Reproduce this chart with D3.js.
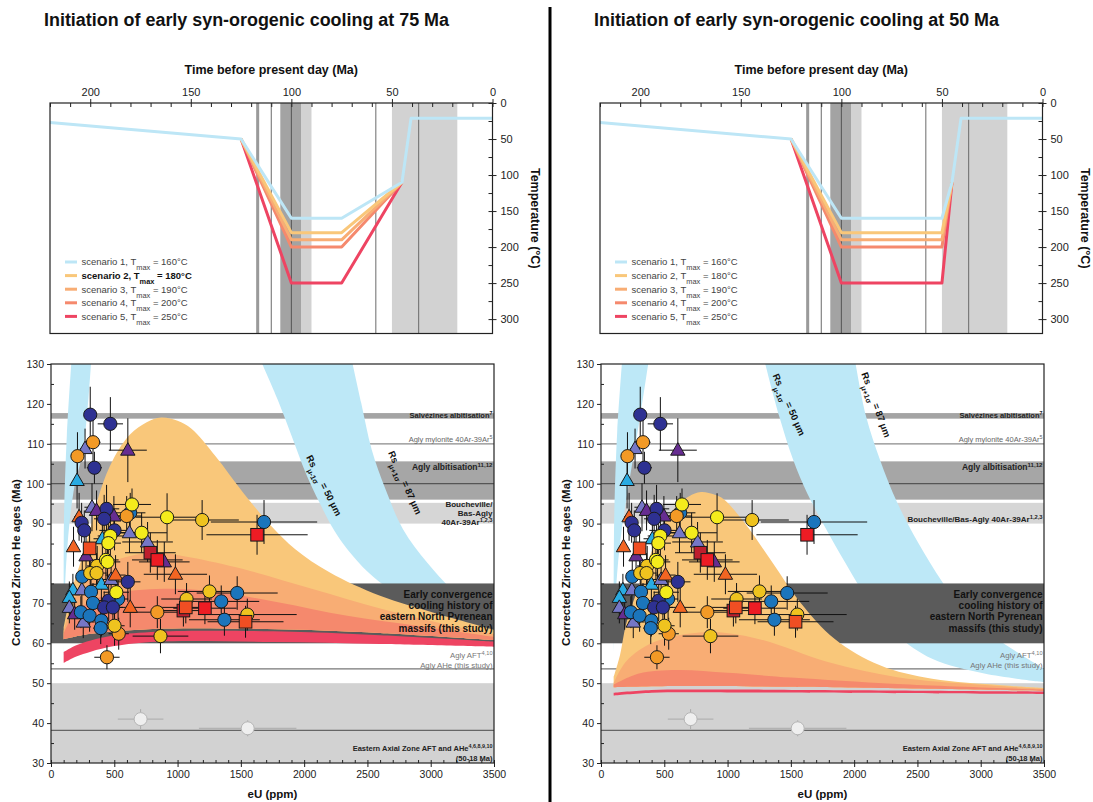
<!DOCTYPE html>
<html lang="en">
<head>
<meta charset="UTF-8">
<title>Early syn-orogenic cooling scenarios</title>
<script src="https://cdn.jsdelivr.net/npm/d3@7"></script>
<style>
  body { margin: 0; background: #fff; }
  svg text { font-family: "Liberation Sans", Arial, sans-serif; }
</style>
</head>
<body>
<div id="container"></div>
<script>
const width = 1093;
const height = 802;

// ---------- data ----------
const panelTitles = ['Initiation of early syn-orogenic cooling at 75 Ma', 'Initiation of early syn-orogenic cooling at 50 Ma'];

// top panels: time (Ma) / temperature (°C)
const timeTicks = [200, 150, 100, 50, 0];
const tempTicks = [0, 50, 100, 150, 200, 250, 300];
const scenarioTmax = [160, 180, 190, 200, 250];
const pathsAt75 = [
  [[220, 27], [125, 50], [100, 160], [75, 160], [45, 110], [40.5, 21], [0, 21]],
  [[125, 50], [100, 180], [75, 180], [45, 110]],
  [[125, 50], [100, 190], [75, 190], [45, 110]],
  [[125, 50], [100, 200], [75, 200], [45, 110]],
  [[125, 50], [100, 250], [75, 250], [45, 110]]
];
const pathsAt50 = [
  [[220, 27], [125, 50], [100, 160], [50, 160], [45, 110], [40.5, 21], [0, 21]],
  [[125, 50], [100, 180], [50, 180], [45, 110]],
  [[125, 50], [100, 190], [50, 190], [45, 110]],
  [[125, 50], [100, 200], [50, 200], [45, 110]],
  [[125, 50], [100, 250], [50, 250], [45, 110]]
];
// geological events on the time axis
const eventBandsTime = [[117.5, 116], [105.5, 95.2], [95.2, 90], [50, 17.5]];
const eventLinesTime = [110, 100, 58, 36.7];

// bottom panels: eU (ppm) / corrected ZHe age (Ma)
const eUTicks = [0, 500, 1000, 1500, 2000, 2500, 3000, 3500];
const ageTicks = [30, 40, 50, 60, 70, 80, 90, 100, 110, 120, 130];
const ageBands = [[116.3, 117.7], [96, 105.6], [90, 95.2], [30, 50]];
const convergenceBand = [60, 75];
const ageLines = [110, 100, 53.6, 38.2];

// Rs envelopes [eU, age]
const wedgeLeftAt75 = [[160, 130], [125, 112], [103, 92], [100, 75], [100, 57]];
const wedgeRightAt75 = [[316, 130], [257, 109], [178, 98], [120, 80], [100, 57]];
const wedgeLeftAt50 = [[165, 130], [128, 113], [106, 94], [100, 75], [100, 57]];
const wedgeRightAt50 = [[373, 130], [300, 115], [220, 100], [150, 85], [112, 70], [100, 57]];
const rsLowAt75 = [[1669, 130], [1792, 121], [1902, 111.9], [2012, 102.7], [2122, 95.2], [2232, 88.6], [2341, 83.6], [2506, 77.8], [2671, 73.6], [2891, 69], [3165, 65.3], [3500, 62.8]];
const rsHighAt75 = [[2383, 130], [2451, 120.2], [2534, 108.5], [2643, 98.6], [2781, 88.6], [2973, 80.2], [3165, 73.6], [3330, 69.4], [3500, 64.6]];
const rsLowAt50 = [[1298, 130], [1408, 116.9], [1518, 106], [1628, 97.7], [1765, 89.4], [1930, 80.2], [2122, 70.3], [2341, 62], [2616, 56.1], [3028, 52.4], [3500, 50.3]];
const rsHighAt50 = [[2012, 130], [2094, 116.9], [2204, 106], [2341, 95.2], [2506, 85.2], [2698, 75.3], [2891, 66.9], [3165, 60.3], [3500, 53.6]];

// predicted age envelopes per scenario [eU, age]
const s2TopAt75 = [[100, 64], [125, 68], [180, 75], [230, 80], [308, 88.4], [392, 98.4], [490, 106], [624, 112.3], [756, 115.4], [870, 116.6], [1000, 115.8], [1110, 113.8], [1300, 106.9], [1520, 97.7], [1740, 89.4], [1930, 83.6], [2200, 77.8], [2600, 71.9], [3030, 67.6], [3500, 63.4]];
const s3TopAt75 = [[100, 63], [200, 72], [420, 79.4], [694, 82.3], [860, 82.7], [1106, 81.5], [1518, 78.6], [2067, 73.6], [2616, 68.6], [3165, 64.4], [3500, 62.3]];
const s4TopAt75 = [[100, 62.5], [200, 68], [420, 71.9], [832, 73.6], [1243, 73.2], [1792, 70.3], [2341, 66.9], [2891, 64.4], [3500, 61.6]];
const baseAt75 = [[100, 61], [300, 62.3], [800, 63.6], [1800, 63.5], [2600, 62.6], [3500, 60.8]];
const s5TopAt75 = [[100, 57.8], [200, 59.5], [314, 60.7], [500, 62], [840, 62.9], [1757, 63], [2600, 62], [3500, 60.4]];
const s5BottomAt75 = [[100, 55.1], [200, 56.7], [314, 57.9], [500, 59.3], [840, 60.4], [1757, 60.3], [2600, 59.8], [3500, 59.1]];

const s2TopAt50 = [[100, 51.5], [150, 57], [200, 65], [310, 75.3], [400, 83], [502, 90.2], [600, 94.5], [694, 96.8], [790, 97.9], [900, 97.2], [969, 96.1], [1134, 90.2], [1353, 80.3], [1573, 70.3], [1847, 61.1], [2204, 54.5], [2616, 51.1], [3165, 49.5], [3500, 48.8]];
const s3TopAt50 = [[100, 50], [200, 55.5], [420, 60.3], [832, 62.8], [1243, 61.1], [1792, 55.3], [2341, 51.5], [3000, 49.6], [3500, 48.6]];
const s4TopAt50 = [[100, 49.6], [300, 52.4], [600, 53.3], [1000, 52.6], [1500, 51.4], [2341, 49.8], [3500, 48.4]];
const baseAt50 = [[100, 49], [600, 49.3], [1500, 49.1], [3500, 48.1]];
const s5TopAt50 = [[100, 47.6], [400, 48.3], [1000, 48.4], [3500, 47.9]];
const s5BottomAt50 = [[100, 46.9], [400, 47.6], [1000, 47.7], [3500, 47.3]];

// Eastern Axial Zone reference ages [eU, eU error, age, age error]
const eazAges = [[708, 180, 41.0, 2.5], [1554, 385, 38.7, 2]];

// ZHe single grain ages [eU, eU error, age, age error]
const lightBlueTriangles = [[206, 30, 100.8, 7], [173, 30, 73.4, 4], [145, 30, 71.5, 4], [398, 80, 74.8, 4], [406, 70, 86.2, 4]];
const slateTriangles = [[269, 40, 108.8, 5], [324, 60, 94.1, 6], [620, 150, 87.7, 5], [763, 200, 85.4, 5], [145, 30, 69.0, 4], [244, 40, 73.4, 4], [255, 40, 65.3, 4], [475, 80, 76, 5]];
const purpleTriangles = [[607, 150, 108.4, 8], [360, 60, 93.3, 5], [497, 100, 91.9, 5], [277, 40, 81.9, 5], [895, 200, 80.4, 5], [187, 30, 67.4, 4]];
const orangeTriangles = [[222, 40, 91.7, 6], [178, 30, 84.2, 5], [983, 250, 77.3, 5], [510, 80, 77.1, 5], [626, 120, 69.0, 5]];
const blueCircles = [[1683, 420, 90.4, 5.5], [1471, 320, 72.6, 4.2], [1345, 300, 70.5, 4], [1370, 280, 65.9, 4], [247, 40, 76.7, 4], [316, 50, 72.9, 5], [332, 50, 70.1, 5], [236, 40, 67.8, 4], [305, 50, 66.9, 4], [398, 60, 65.7, 4], [393, 60, 63.8, 4], [530, 80, 71.1, 5], [626, 120, 92.7, 5]];
const navyCircles = [[310, 30, 117.3, 7], [469, 100, 115.0, 6.7], [343, 60, 104.0, 4], [439, 100, 93.7, 6], [420, 80, 91.2, 6], [502, 120, 88.3, 5], [242, 40, 90.2, 5], [263, 40, 88.3, 5], [607, 100, 75.4, 5], [456, 80, 70.7, 5], [420, 80, 69.0, 4], [489, 80, 69.0, 4]];
const orangeCircles = [[209, 30, 106.9, 6], [332, 60, 110.4, 6], [598, 120, 91.9, 5], [840, 250, 67.8, 4], [535, 80, 62.4, 4], [442, 100, 56.5, 3]];
const goldCircles = [[1194, 290, 90.9, 5], [1252, 250, 73.0, 4], [1071, 200, 71.1, 4], [1551, 390, 67.2, 4], [865, 220, 61.8, 4.3], [365, 80, 79.4, 5], [310, 60, 77.6, 5], [360, 80, 77.6, 5], [502, 80, 64.4, 5]];
const yellowCircles = [[640, 150, 94.8, 4], [917, 250, 91.6, 6], [716, 200, 87.7, 5], [469, 100, 86.9, 5], [453, 100, 85.1, 5], [434, 100, 80.9, 5], [447, 100, 80.4, 5], [516, 100, 72.8, 4]];
const darkRedSquares = [[785, 200, 82.7, 5], [1046, 200, 68.2, 4]];
const redSquares = [[1628, 400, 87.2, 5], [840, 200, 80.9, 5], [1216, 250, 68.8, 4]];
const orangeRedSquares = [[305, 50, 83.8, 5], [1065, 200, 69.0, 4], [1537, 300, 65.4, 4]];

// ---------- styles ----------
const scenarioColors = ['#bde6f6', '#f9c77a', '#f8ad74', '#f5896d', '#ee4462'];
const bandFills = ['#a4a4a4', '#a6a6a6', '#d6d6d6', '#d2d2d2'];
const lineColors = ['#8a8a8a', '#555', '#777', '#666'];
const eventBandFills = ['#9a9a9a', '#a3a3a3', '#d2d2d2', '#d2d2d2'];
const rsBlue = '#bde8f7';

const markerGroups = [
  { data: lightBlueTriangles, shape: 'tri', fill: '#29abe2' },
  { data: slateTriangles, shape: 'tri', fill: '#7577c6' },
  { data: purpleTriangles, shape: 'tri', fill: '#662d91' },
  { data: orangeTriangles, shape: 'tri', fill: '#f26522' },
  { data: blueCircles, shape: 'circle', fill: '#1b75bc' },
  { data: navyCircles, shape: 'circle', fill: '#2e3192' },
  { data: orangeCircles, shape: 'circle', fill: '#f39a26' },
  { data: goldCircles, shape: 'circle', fill: '#efc31f' },
  { data: yellowCircles, shape: 'circle', fill: '#f4eb1c' },
  { data: darkRedSquares, shape: 'square', fill: '#be1e2d' },
  { data: redSquares, shape: 'square', fill: '#ed1c24' },
  { data: orangeRedSquares, shape: 'square', fill: '#f04e23' }
];

const panels = [
  {
    ox: 0, title: panelTitles[0], paths: pathsAt75, boldRow: 1,
    wedge: [wedgeLeftAt75, wedgeRightAt75], rs: [rsLowAt75, rsHighAt75],
    tops: [s2TopAt75, s3TopAt75, s4TopAt75], base: baseAt75, s5: [s5TopAt75, s5BottomAt75],
    boucheville: ['Boucheville/', 'Bas-Agly', '40Ar-39Ar'],
    rsLabels: [{ x: 321, y: 487, a: 63, sub: 'μ-1σ', v: '50' }, { x: 402, y: 484, a: 66, sub: 'μ+1σ', v: '87' }]
  },
  {
    ox: 550, title: panelTitles[1], paths: pathsAt50, boldRow: -1,
    wedge: [wedgeLeftAt50, wedgeRightAt50], rs: [rsLowAt50, rsHighAt50],
    tops: [s2TopAt50, s3TopAt50, s4TopAt50], base: baseAt50, s5: [s5TopAt50, s5BottomAt50],
    boucheville: ['Boucheville/Bas-Agly 40Ar-39Ar'],
    rsLabels: [{ x: 236, y: 406, a: 66, sub: 'μ-1σ', v: '50' }, { x: 323, y: 406, a: 70, sub: 'μ+1σ', v: '87' }]
  }
];

// ---------- scales ----------
const xT = d3.scaleLinear().domain([220, 0]).range([50, 492.5]);
const yT = d3.scaleLinear().domain([0, 320]).range([103, 333.5]);
const xB = d3.scaleLinear().domain([0, 3500]).range([51, 494]);
const yB = d3.scaleLinear().domain([30, 130]).range([763, 364]);

const svg = d3.select('#container').append('svg')
  .attr('width', width)
  .attr('height', height)
  .style('display', 'block');

svg.append('rect').attr('width', width).attr('height', height).attr('fill', '#fff');

// divider between the two scenarios
svg.append('line')
  .attr('x1', 550).attr('x2', 550).attr('y1', 7).attr('y2', height)
  .attr('stroke', '#000').attr('stroke-width', 3);

const edge = d3.line().x(d => xB(d[0])).y(d => yB(d[1])).curve(d3.curveCatmullRom.alpha(0.5));

function bandPath(a, b) {
  // a drawn forward, b drawn backward, closed
  const back = edge(b.slice().reverse());
  return edge(a) + 'L' + back.slice(1) + 'Z';
}

function styleAxis(g, size) {
  g.select('.domain').remove();
  g.selectAll('line').attr('stroke', '#222');
  g.selectAll('text').attr('fill', '#222').style('font-size', size + 'px')
    .style('font-family', '"Liberation Sans", Arial, sans-serif');
}

function addText(g, x, y, parts, opts) {
  const t = g.append('text').attr('x', x).attr('y', y)
    .attr('text-anchor', opts.anchor || 'end')
    .attr('fill', opts.color || '#222')
    .style('font-size', opts.size + 'px')
    .style('font-weight', opts.bold ? 'bold' : 'normal');
  parts.forEach(p => {
    const s = t.append('tspan').text(p.t);
    if (p.sup) s.attr('baseline-shift', 'super').style('font-size', '72%');
    if (p.sub) s.attr('baseline-shift', 'sub').style('font-size', '78%');
  });
  return t;
}

const trianglePath = 'M0,-7.5L7.2,5L-7.2,5Z';
const plainNum = d3.format('d');

panels.forEach((p, pi) => {
  const g = svg.append('g').attr('transform', `translate(${p.ox},0)`);

  // title
  g.append('text')
    .attr('x', 44).attr('y', 26)
    .attr('textLength', 405).attr('lengthAdjust', 'spacingAndGlyphs')
    .style('font-family', '"Liberation Sans Narrow", "Liberation Sans", Arial, sans-serif')
    .style('font-size', '18px').style('font-weight', 'bold').attr('fill', '#111')
    .text(p.title);

  // ================= top panel =================
  const top = g.append('g');
  eventBandsTime.forEach((b, i) => {
    top.append('rect')
      .attr('x', xT(b[0])).attr('y', yT(0))
      .attr('width', xT(b[1]) - xT(b[0])).attr('height', yT(320) - yT(0))
      .attr('fill', eventBandFills[i]);
  });
  eventLinesTime.forEach((v, i) => {
    top.append('line')
      .attr('x1', xT(v)).attr('x2', xT(v)).attr('y1', yT(0)).attr('y2', yT(320))
      .attr('stroke', i === 1 ? '#555' : '#6a6a6a').attr('stroke-width', 1);
  });

  const tLine = d3.line().x(d => xT(d[0])).y(d => yT(d[1]));
  for (let i = p.paths.length - 1; i >= 0; i--) {
    top.append('path')
      .attr('d', tLine(p.paths[i]))
      .attr('fill', 'none')
      .attr('stroke', scenarioColors[i])
      .attr('stroke-width', 3)
      .attr('stroke-linejoin', 'round');
  }

  top.append('rect')
    .attr('x', xT(220)).attr('y', yT(0))
    .attr('width', xT(0) - xT(220)).attr('height', yT(320) - yT(0))
    .attr('fill', 'none').attr('stroke', '#222').attr('stroke-width', 1.2);

  top.append('g').attr('transform', `translate(0,${yT(0)})`)
    .call(d3.axisTop(xT).tickValues(timeTicks).tickSize(4).tickPadding(3).tickFormat(plainNum))
    .call(s => styleAxis(s, 11));
  top.append('g').attr('transform', `translate(0,${yT(0)})`)
    .call(d3.axisTop(xT).tickValues(d3.range(0, 221, 10)).tickSize(-4).tickFormat(''))
    .call(s => styleAxis(s, 11));
  top.append('g').attr('transform', `translate(${xT(0)},0)`)
    .call(d3.axisRight(yT).tickValues(tempTicks).tickSize(4).tickPadding(4).tickFormat(plainNum))
    .call(s => styleAxis(s, 11));
  top.append('g').attr('transform', `translate(${xT(0)},0)`)
    .call(d3.axisRight(yT).tickValues(d3.range(0, 321, 25)).tickSize(-4).tickFormat(''))
    .call(s => styleAxis(s, 11));

  top.append('text')
    .attr('x', (xT(220) + xT(0)) / 2).attr('y', 74)
    .attr('text-anchor', 'middle')
    .style('font-size', '12.5px').style('font-weight', 'bold').attr('fill', '#111')
    .text('Time before present day (Ma)');
  top.append('text')
    .attr('transform', `translate(535,${(yT(0) + yT(320)) / 2}) rotate(90)`)
    .attr('text-anchor', 'middle').attr('dy', '0.35em')
    .style('font-size', '12.5px').style('font-weight', 'bold').attr('fill', '#111')
    .text('Temperature (°C)');

  // legend
  scenarioTmax.forEach((t, i) => {
    const ly = 262 + i * 13.6;
    top.append('line')
      .attr('x1', 65).attr('x2', 77).attr('y1', ly).attr('y2', ly)
      .attr('stroke', scenarioColors[i]).attr('stroke-width', 3);
    addText(top, 81.5, ly + 3.4,
      [{ t: `scenario ${i + 1}, T` }, { t: 'max', sub: true }, { t: ` = ${t}°C` }],
      { anchor: 'start', size: 9.5, color: i === p.boldRow ? '#111' : '#444', bold: i === p.boldRow });
  });

  // ================= bottom panel =================
  const bot = g.append('g');
  const clipId = 'clip' + pi;
  bot.append('clipPath').attr('id', clipId)
    .append('rect')
    .attr('x', xB(0)).attr('y', yB(130))
    .attr('width', xB(3500) - xB(0)).attr('height', yB(30) - yB(130));
  const plot = bot.append('g').attr('clip-path', `url(#${clipId})`);

  ageBands.forEach((b, i) => {
    plot.append('rect')
      .attr('x', xB(0)).attr('y', yB(b[1]))
      .attr('width', xB(3500) - xB(0)).attr('height', yB(b[0]) - yB(b[1]))
      .attr('fill', bandFills[i]);
  });
  ageLines.forEach((v, i) => {
    plot.append('line')
      .attr('x1', xB(0)).attr('x2', xB(3500)).attr('y1', yB(v)).attr('y2', yB(v))
      .attr('stroke', lineColors[i]).attr('stroke-width', 1.2);
  });

  // Rs envelopes
  plot.append('path').attr('d', bandPath(p.wedge[0], p.wedge[1])).attr('fill', rsBlue);
  plot.append('path').attr('d', bandPath(p.rs[0], p.rs[1])).attr('fill', rsBlue);

  plot.append('rect')
    .attr('x', xB(0)).attr('y', yB(convergenceBand[1]))
    .attr('width', xB(3500) - xB(0)).attr('height', yB(convergenceBand[0]) - yB(convergenceBand[1]))
    .attr('fill', '#5b5b5b');

  // scenario envelopes
  p.tops.forEach((tp, i) => {
    plot.append('path').attr('d', bandPath(tp, p.base)).attr('fill', scenarioColors[i + 1]);
  });
  plot.append('path').attr('d', bandPath(p.s5[0], p.s5[1])).attr('fill', scenarioColors[4]);

  // EAZ reference ages
  const eaz = plot.append('g');
  eazAges.forEach(d => {
    eaz.append('line').attr('x1', xB(d[0] - d[1])).attr('x2', xB(d[0] + d[1]))
      .attr('y1', yB(d[2])).attr('y2', yB(d[2])).attr('stroke', '#aaa');
    eaz.append('line').attr('x1', xB(d[0])).attr('x2', xB(d[0]))
      .attr('y1', yB(d[2] - d[3])).attr('y2', yB(d[2] + d[3])).attr('stroke', '#aaa');
    eaz.append('circle').attr('cx', xB(d[0])).attr('cy', yB(d[2])).attr('r', 6.5)
      .attr('fill', '#efefef').attr('stroke', '#b5b5b5');
  });

  // error bars
  const bars = plot.append('g').attr('stroke', '#111').attr('stroke-width', 1);
  markerGroups.forEach(m => {
    m.data.forEach(d => {
      bars.append('line').attr('x1', xB(d[0] - d[1])).attr('x2', xB(d[0] + d[1]))
        .attr('y1', yB(d[2])).attr('y2', yB(d[2]));
      bars.append('line').attr('x1', xB(d[0])).attr('x2', xB(d[0]))
        .attr('y1', yB(d[2] - d[3])).attr('y2', yB(d[2] + d[3]));
    });
  });

  // markers
  markerGroups.forEach(m => {
    const mg = plot.append('g');
    if (m.shape === 'circle') {
      mg.selectAll('circle').data(m.data).join('circle')
        .attr('cx', d => xB(d[0])).attr('cy', d => yB(d[2])).attr('r', 6.6)
        .attr('fill', m.fill).attr('stroke', '#1a1a1a').attr('stroke-width', 1);
    } else if (m.shape === 'square') {
      mg.selectAll('rect').data(m.data).join('rect')
        .attr('x', d => xB(d[0]) - 6.3).attr('y', d => yB(d[2]) - 6.3)
        .attr('width', 12.6).attr('height', 12.6)
        .attr('fill', m.fill).attr('stroke', '#1a1a1a').attr('stroke-width', 1);
    } else {
      mg.selectAll('path').data(m.data).join('path')
        .attr('d', trianglePath)
        .attr('transform', d => `translate(${xB(d[0])},${yB(d[2])})`)
        .attr('fill', m.fill).attr('stroke', '#1a1a1a').attr('stroke-width', 1);
    }
  });

  // band labels
  const rx = xB(3500) - 1.5;
  addText(bot, rx, 418, [{ t: 'Salvézines albitisation' }, { t: '7', sup: true }], { size: 7.5, bold: true });
  addText(bot, rx, 441.5, [{ t: 'Agly mylonite 40Ar-39Ar' }, { t: '5', sup: true }], { size: 7.5, color: '#666' });
  addText(bot, rx, 470, [{ t: 'Agly albitisation' }, { t: '11,12', sup: true }], { size: 8.5, bold: true });
  if (p.boucheville.length === 3) {
    addText(bot, rx, 506.5, [{ t: p.boucheville[0] }], { size: 8, bold: true });
    addText(bot, rx, 515.5, [{ t: p.boucheville[1] }], { size: 8, bold: true });
    addText(bot, rx, 524.5, [{ t: p.boucheville[2] }, { t: '1,2,3', sup: true }], { size: 8, bold: true });
  } else {
    addText(bot, rx, 521.5, [{ t: p.boucheville[0] }, { t: '1,2,3', sup: true }], { size: 8, bold: true });
  }
  ['Early convergence', 'cooling history of', 'eastern North Pyrenean', 'massifs (this study)'].forEach((s, i) => {
    addText(bot, rx, 598 + i * 11.2, [{ t: s }], { size: 10, bold: true, color: '#111' });
  });
  addText(bot, rx, 658, [{ t: 'Agly AFT' }, { t: '4,10', sup: true }], { size: 7.8, color: '#777' });
  addText(bot, rx, 667.5, [{ t: 'Agly AHe (this study)' }], { size: 7.8, color: '#777' });
  addText(bot, rx, 751, [{ t: 'Eastern Axial Zone AFT and AHe' }, { t: '4,6,8,9,10', sup: true }], { size: 7.5, bold: true });
  addText(bot, rx, 760.5, [{ t: '(50-18 Ma)' }], { size: 7.5, bold: true });

  // Rs labels
  p.rsLabels.forEach(l => {
    addText(bot, 0, 0, [{ t: 'Rs' }, { t: l.sub, sub: true }, { t: ` = ${l.v} μm` }], { size: 9.5, bold: true, anchor: 'middle', color: '#111' })
      .attr('transform', `translate(${l.x},${l.y}) rotate(${l.a})`);
  });

  // frame and axes
  bot.append('rect')
    .attr('x', xB(0)).attr('y', yB(130))
    .attr('width', xB(3500) - xB(0)).attr('height', yB(30) - yB(130))
    .attr('fill', 'none').attr('stroke', '#222').attr('stroke-width', 1.2);
  bot.append('g').attr('transform', `translate(${xB(0)},0)`)
    .call(d3.axisLeft(yB).tickValues(ageTicks).tickSize(4).tickPadding(3).tickFormat(plainNum))
    .call(s => styleAxis(s, 10.5));
  bot.append('g').attr('transform', `translate(${xB(0)},0)`)
    .call(d3.axisLeft(yB).tickValues(d3.range(35, 130, 10)).tickSize(-3).tickFormat(''))
    .call(s => styleAxis(s, 10.5));
  bot.append('g').attr('transform', `translate(0,${yB(30)})`)
    .call(d3.axisBottom(xB).tickValues(eUTicks).tickSize(4).tickPadding(4).tickFormat(plainNum))
    .call(s => styleAxis(s, 10.5));
  bot.append('g').attr('transform', `translate(0,${yB(30)})`)
    .call(d3.axisBottom(xB).tickValues(d3.range(0, 3501, 100)).tickSize(-3).tickFormat(''))
    .call(s => styleAxis(s, 10.5));

  bot.append('text')
    .attr('x', (xB(0) + xB(3500)) / 2).attr('y', 798)
    .attr('text-anchor', 'middle')
    .style('font-size', '11.5px').style('font-weight', 'bold').attr('fill', '#111')
    .text('eU (ppm)');
  bot.append('text')
    .attr('transform', `translate(16,${(yB(30) + yB(130)) / 2 - 1}) rotate(-90)`)
    .attr('text-anchor', 'middle').attr('dy', '0.35em')
    .style('font-size', '11.5px').style('font-weight', 'bold').attr('fill', '#111')
    .text('Corrected Zircon He ages (Ma)');
});
</script>
</body>
</html>
